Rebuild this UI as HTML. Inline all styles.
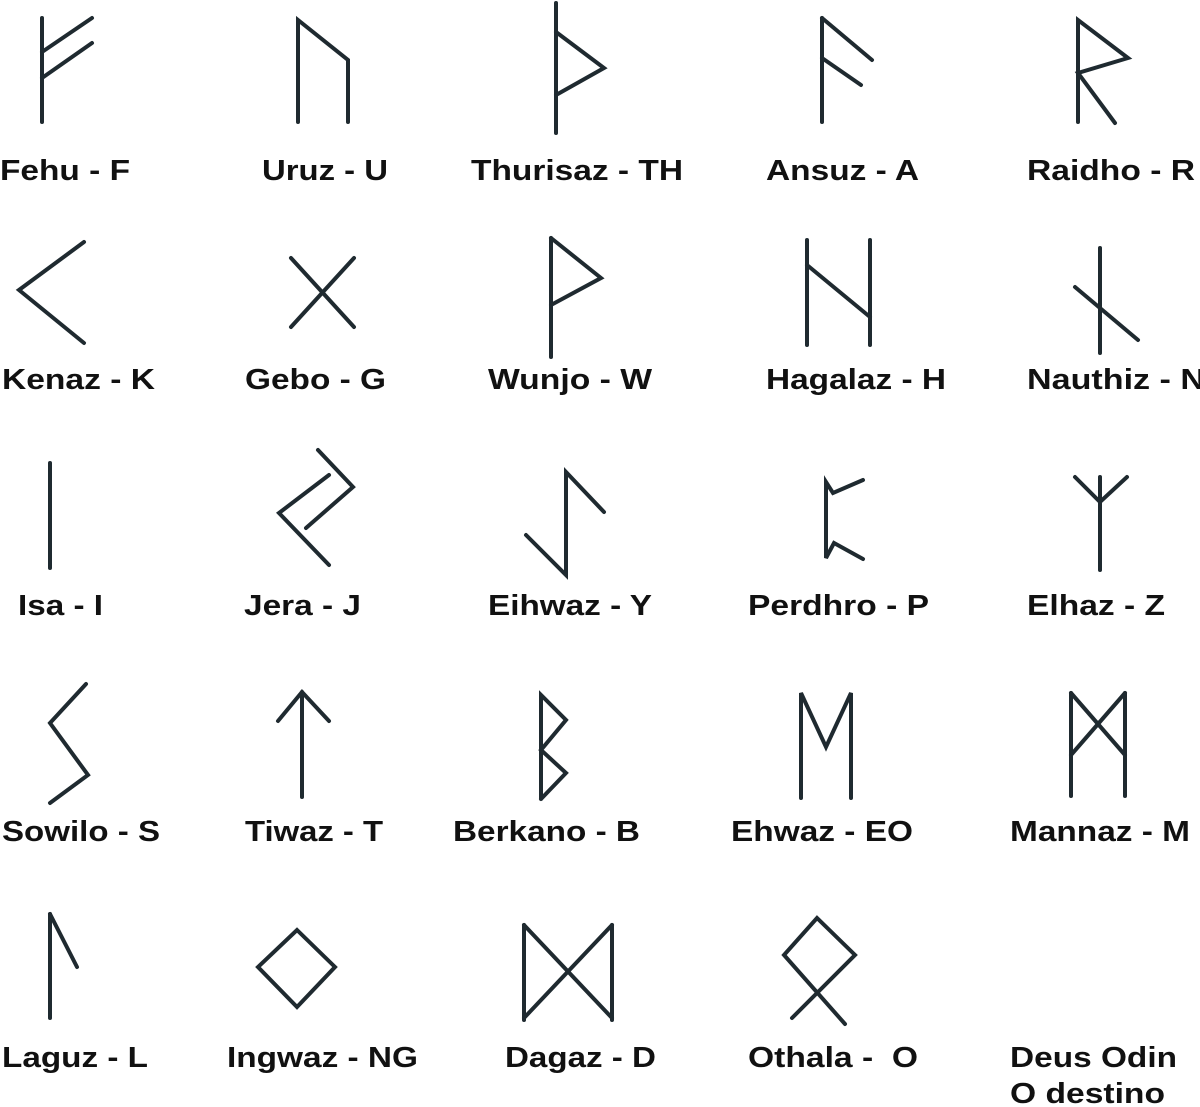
<!DOCTYPE html>
<html><head><meta charset="utf-8"><style>
html,body{margin:0;padding:0;background:#fff;}
svg{display:block;}
text{font-family:"Liberation Sans",Arial,sans-serif;font-weight:bold;font-size:29px;fill:#111;}
</style></head><body>
<svg width="1200" height="1107" viewBox="0 0 1200 1107" xmlns="http://www.w3.org/2000/svg">
<g fill="none" stroke="#1f2a30" stroke-width="4" stroke-linecap="round" stroke-linejoin="miter">
<!-- Row 1 -->
<line x1="42" y1="18" x2="42" y2="122"/>
<line x1="42" y1="52" x2="92" y2="18"/>
<line x1="42" y1="78" x2="92" y2="43"/>
<polyline points="298,122 298,20 348,60 348,122"/>
<line x1="556" y1="3" x2="556" y2="133"/>
<polyline points="556,32 604,68 556,95"/>
<line x1="822" y1="18" x2="822" y2="122"/>
<line x1="822" y1="18" x2="872" y2="60"/>
<line x1="822" y1="58" x2="861" y2="85"/>
<polyline points="1078,122 1078,20 1128,58 1078,73 1115,123"/>
<!-- Row 2 -->
<polyline points="84,242 19,290 84,343"/>
<line x1="291" y1="258" x2="354" y2="327"/>
<line x1="354" y1="258" x2="291" y2="327"/>
<line x1="551" y1="238" x2="551" y2="357"/>
<polyline points="551,238 601,278 551,305"/>
<line x1="807" y1="240" x2="807" y2="345"/>
<line x1="870" y1="240" x2="870" y2="345"/>
<line x1="807" y1="265" x2="870" y2="317"/>
<line x1="1100" y1="248" x2="1100" y2="353"/>
<line x1="1075" y1="287" x2="1138" y2="340"/>
<!-- Row 3 -->
<line x1="50" y1="463" x2="50" y2="568"/>
<polyline points="318,450 353,487 306,528"/>
<polyline points="329,475 279,513 329,565"/>
<polyline points="604,512 566,472 566,575 526,535"/>
<polyline points="863,480 833,493 826,482 826,558 834,543 863,559"/>
<line x1="1100" y1="477" x2="1100" y2="570"/>
<polyline points="1075,477 1100,502 1127,477"/>
<!-- Row 4 -->
<polyline points="86,684 50,723 88,775 50,803"/>
<line x1="302" y1="692" x2="302" y2="797"/>
<polyline points="278,721 302,692 329,721"/>
<polyline points="541,799 541,695 566,720 541,750 566,773 541,799"/>
<polyline points="801,798 801,693 826,747 851,693 851,798"/>
<line x1="1071" y1="693" x2="1071" y2="796"/>
<line x1="1125" y1="693" x2="1125" y2="796"/>
<line x1="1071" y1="693" x2="1125" y2="755"/>
<line x1="1125" y1="693" x2="1071" y2="755"/>
<!-- Row 5 -->
<line x1="50" y1="914" x2="50" y2="1018"/>
<line x1="50" y1="914" x2="77" y2="967"/>
<polygon points="297,930 335,967 297,1007 258,967"/>
<line x1="524" y1="925" x2="524" y2="1020"/>
<line x1="612" y1="925" x2="612" y2="1020"/>
<line x1="524" y1="925" x2="612" y2="1018"/>
<line x1="612" y1="925" x2="524" y2="1018"/>
<polyline points="845,1024 784,955 817,918 855,955 792,1018"/>
</g>
<g>
<text x="0" y="180" textLength="130" lengthAdjust="spacingAndGlyphs">Fehu - F</text>
<text x="262" y="180" textLength="126" lengthAdjust="spacingAndGlyphs">Uruz - U</text>
<text x="471" y="180" textLength="212" lengthAdjust="spacingAndGlyphs">Thurisaz - TH</text>
<text x="766" y="180" textLength="153" lengthAdjust="spacingAndGlyphs">Ansuz - A</text>
<text x="1027" y="180" textLength="168" lengthAdjust="spacingAndGlyphs">Raidho - R</text>

<text x="2" y="389" textLength="153" lengthAdjust="spacingAndGlyphs">Kenaz - K</text>
<text x="245" y="389" textLength="141" lengthAdjust="spacingAndGlyphs">Gebo - G</text>
<text x="488" y="389" textLength="164" lengthAdjust="spacingAndGlyphs">Wunjo - W</text>
<text x="766" y="389" textLength="180" lengthAdjust="spacingAndGlyphs">Hagalaz - H</text>
<text x="1027" y="389" textLength="178" lengthAdjust="spacingAndGlyphs">Nauthiz - N</text>

<text x="18" y="615" textLength="85" lengthAdjust="spacingAndGlyphs">Isa - I</text>
<text x="244" y="615" textLength="117" lengthAdjust="spacingAndGlyphs">Jera - J</text>
<text x="488" y="615" textLength="164" lengthAdjust="spacingAndGlyphs">Eihwaz - Y</text>
<text x="748" y="615" textLength="181" lengthAdjust="spacingAndGlyphs">Perdhro - P</text>
<text x="1027" y="615" textLength="138" lengthAdjust="spacingAndGlyphs">Elhaz - Z</text>

<text x="2" y="841" textLength="158" lengthAdjust="spacingAndGlyphs">Sowilo - S</text>
<text x="245" y="841" textLength="138" lengthAdjust="spacingAndGlyphs">Tiwaz - T</text>
<text x="453" y="841" textLength="187" lengthAdjust="spacingAndGlyphs">Berkano - B</text>
<text x="731" y="841" textLength="182" lengthAdjust="spacingAndGlyphs">Ehwaz - EO</text>
<text x="1010" y="841" textLength="180" lengthAdjust="spacingAndGlyphs">Mannaz - M</text>

<text x="2" y="1067" textLength="146" lengthAdjust="spacingAndGlyphs">Laguz - L</text>
<text x="227" y="1067" textLength="191" lengthAdjust="spacingAndGlyphs">Ingwaz - NG</text>
<text x="505" y="1067" textLength="151" lengthAdjust="spacingAndGlyphs">Dagaz - D</text>
<text x="748" y="1067" textLength="170" lengthAdjust="spacingAndGlyphs" xml:space="preserve">Othala -  O</text>
<text x="1010" y="1067" textLength="167" lengthAdjust="spacingAndGlyphs">Deus Odin</text>
<text x="1010" y="1103" textLength="155" lengthAdjust="spacingAndGlyphs">O destino</text>
</g>
</svg>
</body></html>
